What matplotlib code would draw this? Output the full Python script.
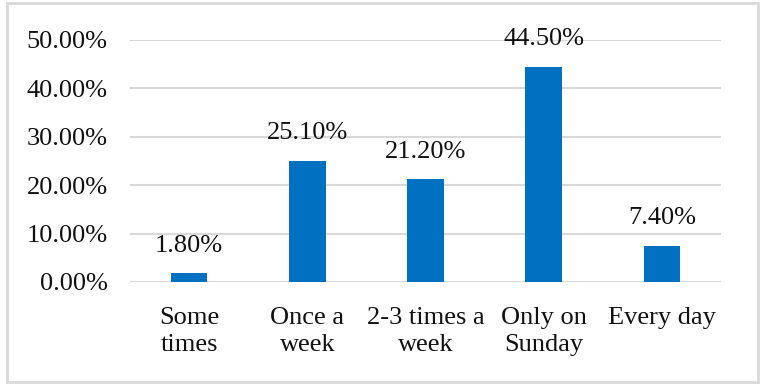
import matplotlib.pyplot as plt
from matplotlib.patches import Rectangle

# chart data
categories = ["Some\ntimes", "Once a\nweek", "2-3 times a\nweek", "Only on\nSunday", "Every day"]
values = [1.80, 25.10, 21.20, 44.50, 7.40]
yticks = [0, 10, 20, 30, 40, 50]

plt.rcParams['font.family'] = ['Liberation Serif', 'DejaVu Serif']

fig = plt.figure(figsize=(7.81, 3.86), dpi=100)
ax = fig.add_axes([130/781, 1-282/386, (721-130)/781, (282-40)/386])

x = range(len(categories))
ax.bar(x, values, width=0.31, color="#0070C0", zorder=3)

# value labels above the bars
for i, v in enumerate(values):
    ax.annotate("%.2f%%" % v, (i, v), xytext=(0, 20), textcoords="offset points",
                ha="center", va="center", fontsize=19, color="#111111")

ax.set_xlim(-0.5, len(categories) - 0.5)
ax.set_ylim(0, 50)
ax.set_yticks(yticks)
ax.set_yticklabels(["%.2f%%" % t for t in yticks], fontsize=19, color="#111111")
ax.set_xticks(list(x))
ax.set_xticklabels(categories, fontsize=19, color="#111111", linespacing=1.32)
ax.tick_params(axis="y", length=0, pad=16)
ax.tick_params(axis="x", length=0, pad=18)
ax.grid(axis="y", color="#d9d9d9", linewidth=1.5, zorder=0)
for s in ax.spines.values():
    s.set_visible(False)

# light border round the whole chart
fig.patches.append(Rectangle((7/781, 1-382/386), (758-7)/781, (382-3)/386,
                             transform=fig.transFigure, fill=False,
                             edgecolor="#d9d9d9", linewidth=2))

fig.savefig("out.png", dpi=100)
